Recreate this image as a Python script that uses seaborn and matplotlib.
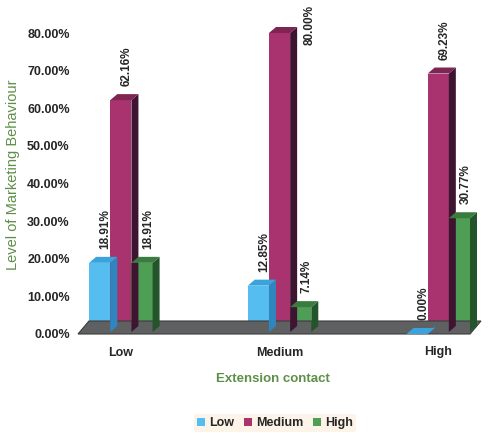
import matplotlib
matplotlib.use("Agg")
import matplotlib.pyplot as plt
import matplotlib.transforms as mtransforms
from matplotlib.patches import Polygon, Patch
import seaborn as sns
import pandas as pd

# Data
categories = ["Low", "Medium", "High"]
series = ["Low", "Medium", "High"]
low_vals = [18.91, 12.85, 0.00]
medium_vals = [62.16, 80.00, 69.23]
high_vals = [18.91, 7.14, 30.77]
y_ticks = [0, 10, 20, 30, 40, 50, 60, 70, 80]

front_colors = {"Low": "#55bdf0", "Medium": "#a8336f", "High": "#4f9e55"}
side_colors = {"Low": "#2f86bf", "Medium": "#3e1530", "High": "#24542b"}
top_colors = {"Low": "#3aa3dc", "Medium": "#7e2553", "High": "#3a7c40"}

df = pd.DataFrame({
    "contact": categories * 3,
    "level": [s for s in series for _ in categories],
    "value": low_vals + medium_vals + high_vals,
})

sns.set_style("white")
plt.rcParams["font.family"] = ["Liberation Sans", "DejaVu Sans"]

DPI = 100
fig = plt.figure(figsize=(4.88, 4.34), dpi=DPI)
ax = fig.add_axes([78 / 488, 100 / 434, 392 / 488, 301 / 434])

sns.barplot(data=df, x="contact", y="value", hue="level",
            order=categories, hue_order=series,
            palette=front_colors, width=0.4, gap=0,
            saturation=1, linewidth=0, legend=False, ax=ax, zorder=3)

ax.set_xlim(-0.27, 2.2)
ax.set_ylim(0, 80)
ax.set_yticks(y_ticks)
ax.set_yticklabels([f"{v:.2f}%" for v in y_ticks], fontsize=9, fontweight="bold")
ax.set_xticks(range(len(categories)))
ax.set_xticklabels(categories, fontsize=9, fontweight="bold")
ax.tick_params(axis="both", length=0, pad=6)
ax.tick_params(axis="x", pad=9)
for s in ax.spines.values():
    s.set_visible(False)
ax.set_facecolor("none")

ax.set_xlabel("Extension contact", fontsize=9.5, fontweight="bold",
              color="#5e8f48")
ax.xaxis.set_label_coords(0.497, -0.13)
ax.set_ylabel("Level of Marketing Behaviour", fontsize=10.5,
              color="#5e8f48")
ax.yaxis.set_label_coords(-0.148, 0.528)

fig.canvas.draw()
ident = mtransforms.IdentityTransform()
dx, dy = 7, 6  # bar depth in pixels

# floor
(x0, y0) = ax.transData.transform((ax.get_xlim()[0], 0))
(x1, _) = ax.transData.transform((ax.get_xlim()[1], 0))
fdx, fdy = 11, 13
floor = Polygon([(x0, y0), (x1, y0), (x1 + fdx, y0 + fdy), (x0 + fdx, y0 + fdy)],
                closed=True, facecolor="#5e6062", edgecolor="#3c3c3c",
                linewidth=0.8, transform=ident, zorder=1)
fig.patches.append(floor)
floor.set_figure(fig)

# depth faces and value labels
bars = [p for p in ax.patches]
order = [(s, c) for s in series for c in categories]
vals = {(s, c): v for s, c, v in zip(df["level"], df["contact"], df["value"])}
ymax = ax.get_ylim()[1]
for patch, key in zip(bars, order):
    s, c = key
    v = vals[key]
    bx, bw = patch.get_x(), patch.get_width()
    (lx, by) = ax.transData.transform((bx, 0))
    (rx, ty) = ax.transData.transform((bx + bw, v))
    by += 2
    side = Polygon([(rx, by), (rx + dx, by + dy), (rx + dx, ty + dy), (rx, ty)],
                   closed=True, facecolor=side_colors[s], edgecolor="none",
                   transform=ident, zorder=2)
    top = Polygon([(lx, ty), (rx, ty), (rx + dx, ty + dy), (lx + dx, ty + dy)],
                  closed=True, facecolor=top_colors[s], edgecolor="none",
                  transform=ident, zorder=2)
    for poly in (side, top):
        poly.set_figure(fig)
        fig.patches.append(poly)
    if v >= ymax:
        # no room above the tallest bar: put its label beside it
        ax.annotate(f"{v:.2f}%", xy=(bx + bw / 2, v), xytext=(30, 28),
                    textcoords="offset pixels", rotation=90, ha="center",
                    va="top", fontsize=8.5, fontweight="bold",
                    annotation_clip=False, zorder=5)
    else:
        ax.annotate(f"{v:.2f}%", xy=(bx + bw / 2, v), xytext=(6, 14),
                    textcoords="offset pixels", rotation=90, ha="center",
                    va="bottom", fontsize=8.5, fontweight="bold",
                    annotation_clip=False, zorder=5)

# legend
handles = [Patch(facecolor=front_colors[s], edgecolor="none") for s in series]
leg = fig.legend(handles, series, loc="center", bbox_to_anchor=(275 / 488, 1 - 423 / 434),
                 ncol=3, frameon=True, prop={"weight": "bold", "size": 9},
                 handlelength=0.6, handleheight=0.6, handletextpad=0.35,
                 columnspacing=0.8, borderpad=0.25)
leg.get_frame().set_facecolor("#fcf1e4")
leg.get_frame().set_edgecolor("none")

fig.savefig("out.png", dpi=DPI)
